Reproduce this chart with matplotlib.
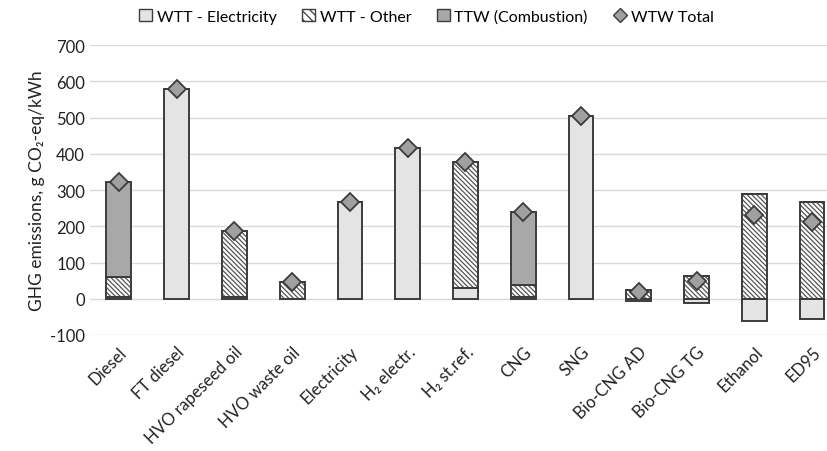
import matplotlib
matplotlib.use("Agg")
import matplotlib.pyplot as plt
import numpy as np
from matplotlib.patches import Patch
from matplotlib.lines import Line2D

plt.rcParams['font.family'] = ['Lato', 'DejaVu Sans']
plt.rcParams['hatch.linewidth'] = 0.9
plt.rcParams['axes.unicode_minus'] = False

categories = ["Diesel", "FT diesel", "HVO rapeseed oil", "HVO waste oil", "Electricity",
              "H\u2082 electr.", "H\u2082 st.ref.", "CNG", "SNG", "Bio-CNG AD",
              "Bio-CNG TG", "Ethanol", "ED95"]
wtt_electricity = [5, 580, 5, 0, 268, 417, 30, 5, 505, -7, -13, -62, -57]
wtt_other = [55, 0, 181, 46, 0, 0, 347, 33, 0, 23, 62, 290, 267]
ttw_combustion = [262, 0, 0, 0, 0, 0, 0, 201, 0, 0, 0, 0, 0]
wtw_total = [322, 580, 186, 46, 268, 417, 377, 239, 505, 18, 49, 230, 213]

c_light = "#e4e4e4"
c_ttw = "#a8a8a8"
c_edge = "#3c3c3c"
c_hatch = "#555555"
hatch = "\\" * 7

fig = plt.figure(figsize=(8.28, 4.52), dpi=100)
ax = fig.add_axes([90 / 828, (452 - 336) / 452, (828 - 90) / 828, 290 / 452])

x = np.arange(len(categories))
width = 0.43

series = [(wtt_electricity, dict(color=c_light)),
          (wtt_other, dict(color="white", hatch=hatch)),
          (ttw_combustion, dict(color=c_ttw))]

pos_base = np.zeros(len(categories))
neg_base = np.zeros(len(categories))
for vals, style in series:
    v = np.array(vals, dtype=float)
    bottoms = np.where(v >= 0, pos_base, neg_base)
    if "hatch" in style:
        ax.bar(x, v, width, bottom=bottoms, color="white", edgecolor=c_hatch,
               hatch=style["hatch"], linewidth=0, zorder=2)
        ax.bar(x, v, width, bottom=bottoms, color="none", edgecolor=c_edge,
               linewidth=1.4, zorder=3)
    else:
        ax.bar(x, v, width, bottom=bottoms, color=style["color"], edgecolor=c_edge,
               linewidth=1.4, zorder=3)
    pos_base = pos_base + np.where(v > 0, v, 0)
    neg_base = neg_base + np.where(v < 0, v, 0)

ax.plot(x, wtw_total, linestyle="none", marker="D", markersize=9,
        markerfacecolor="#a0a0a0", markeredgecolor=c_edge, markeredgewidth=1.3, zorder=5)

ax.set_ylim(-100, 700)
ax.set_yticks(range(-100, 701, 100))
ax.set_xlim(-0.5, 12.5 - 13 / 58)
ax.grid(axis="y", color="#d9d9d9", linewidth=1, zorder=0)
ax.set_axisbelow(True)
for s in ax.spines.values():
    s.set_visible(False)
ax.tick_params(axis="both", length=0, labelsize=12, colors="#222222")
ax.tick_params(axis="x", pad=6)
ax.set_xticks(x)
ax.set_xticklabels(categories, rotation=45, ha="right", rotation_mode="anchor")
ax.set_ylabel("GHG emissions, g CO\u2082-eq/kWh", fontsize=12.5, color="#222222", labelpad=4)

handles = [Patch(facecolor=c_light, edgecolor=c_edge, label="WTT - Electricity"),
           Patch(facecolor="white", edgecolor=c_edge, hatch="\\\\\\\\", label="WTT - Other"),
           Patch(facecolor=c_ttw, edgecolor=c_edge, label="TTW (Combustion)"),
           Line2D([], [], linestyle="none", marker="D", markersize=7,
                  markerfacecolor="#a0a0a0", markeredgecolor=c_edge, label="WTW Total")]
fig.legend(handles=handles, loc="center", bbox_to_anchor=(0.515, 0.962), ncol=4,
           frameon=False, fontsize=11.5, handlelength=0.8, handleheight=0.8,
           handletextpad=0.3, columnspacing=1.6)

fig.savefig("out.png", dpi=100)
